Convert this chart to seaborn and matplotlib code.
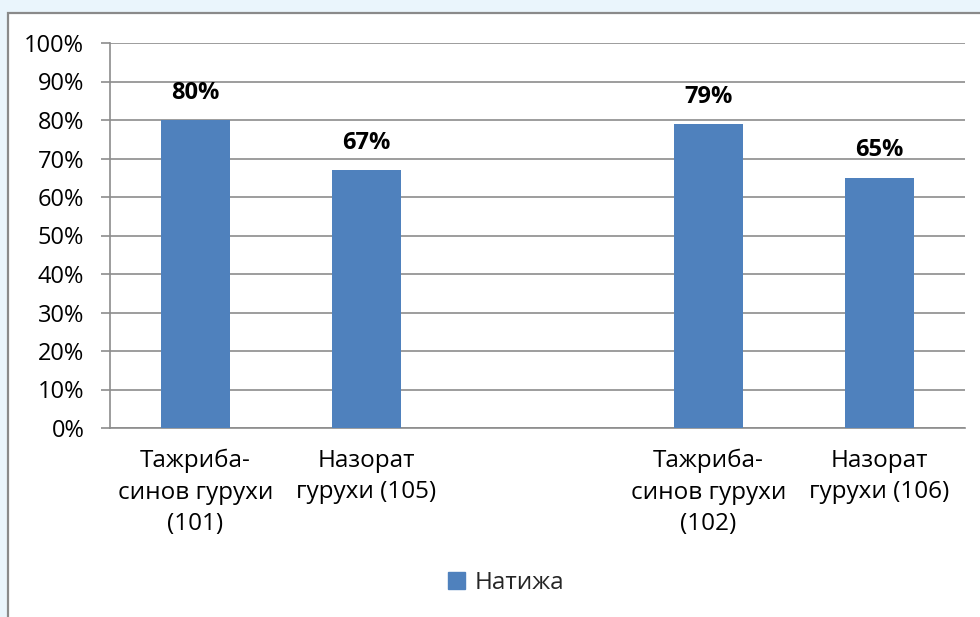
import matplotlib
matplotlib.use("Agg")
import matplotlib.pyplot as plt
import seaborn as sns
import pandas as pd
import numpy as np
from matplotlib.patches import Patch, Rectangle
from matplotlib.ticker import PercentFormatter

# ---- data ----
categories = ["Тажриба-\nсинов гурухи\n(101)", "Назорат\nгурухи (105)", "",
              "Тажриба-\nсинов гурухи\n(102)", "Назорат\nгурухи (106)"]
values = [0.80, 0.67, np.nan, 0.79, 0.65]
series_name = "Натижа"
y_ticks = [0.0, 0.1, 0.2, 0.3, 0.4, 0.5, 0.6, 0.7, 0.8, 0.9, 1.0]

sns.set_theme(style="white")
plt.rcParams['font.family'] = ['Open Sans', 'DejaVu Sans']

BAR = "#4f81bd"
GRID = "#8c8c8c"
TXT = "#000000"

df = pd.DataFrame({"cat": categories, "val": values})

fig = plt.figure(figsize=(9.8, 6.17), dpi=100)
fig.patch.set_facecolor("#eaf5fc")
frame = Rectangle((8 / 980, -0.2), 1.5, 1.2 - 13 / 617, transform=fig.transFigure,
                  facecolor="white", edgecolor="#8a8a8a", lw=1.6, zorder=0)
fig.add_artist(frame)

ax = fig.add_axes([110 / 980, 1 - 428 / 617, (965 - 110) / 980, (428 - 43) / 617])
ax.set_facecolor("none")

sns.barplot(data=df, x="cat", y="val", order=categories, color=BAR,
            width=0.4, saturation=1, linewidth=0, ax=ax, zorder=3)

ax.set_ylim(0, 1.0)
ax.set_xlim(-0.5, len(categories) - 0.5)
ax.set_yticks(y_ticks)
ax.yaxis.set_major_formatter(PercentFormatter(1.0, decimals=0))
ax.grid(axis="y", color=GRID, lw=1.2, zorder=0)
ax.set_axisbelow(True)

# x ticks: labels at centers, tick marks at boundaries
ax.set_xticks(range(len(categories)))
ax.set_xticklabels(categories, fontsize=17.5, color=TXT, linespacing=1.42)
ax.set_xticks(np.arange(-0.5, len(categories)), minor=True)
ax.tick_params(axis="x", which="major", length=0, pad=15)
ax.tick_params(axis="x", which="minor", length=6, width=1.2, color=GRID, direction="out")
ax.tick_params(axis="y", which="major", length=6.5, width=1.2, color=GRID,
               direction="out", labelsize=17, labelcolor=TXT, pad=12, left=True)

for s in ["top", "right"]:
    ax.spines[s].set_visible(False)
for s in ["left", "bottom"]:
    ax.spines[s].set_color(GRID)
    ax.spines[s].set_linewidth(1.2)

ax.set_xlabel("")
ax.set_ylabel("")

for p in ax.patches:
    h = p.get_height()
    if h is None or np.isnan(h) or h == 0:
        continue
    ax.annotate(f"{h*100:.0f}%", (p.get_x() + p.get_width() / 2, h),
                xytext=(0, 11), textcoords="offset points", ha="center", va="bottom",
                fontsize=17, fontweight="bold", color=TXT)

handles = [Patch(facecolor=BAR, edgecolor=BAR)]
fig.legend(handles, [series_name], loc="center",
           bbox_to_anchor=(506 / 980, 1 - 583 / 617), frameon=False,
           fontsize=17.5, handlelength=0.7, handleheight=0.7, handletextpad=0.4)

fig.savefig("out.png", dpi=100, facecolor=fig.get_facecolor())
